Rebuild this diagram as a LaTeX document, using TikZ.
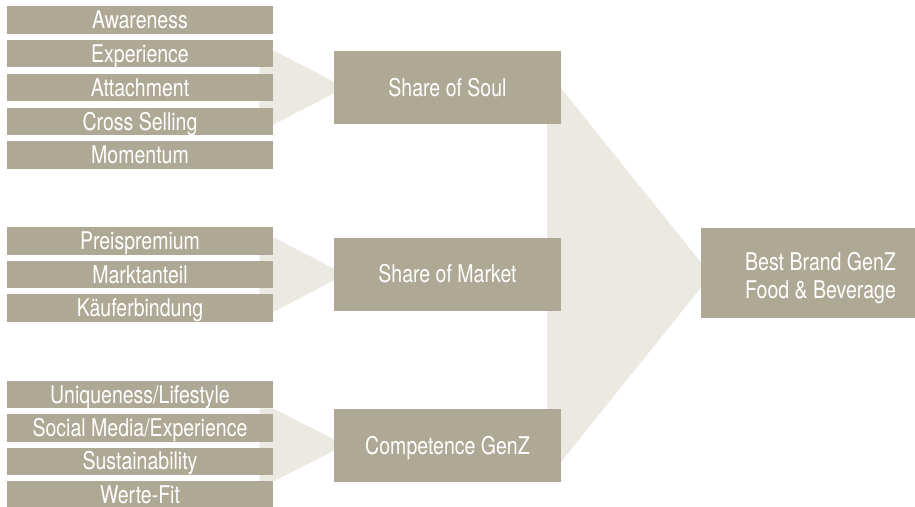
\documentclass[tikz,border=0pt]{standalone}
\usepackage{fontspec}
\setmainfont{TeX Gyre Heros}[FakeStretch=0.8]
\definecolor{taupe}{RGB}{175,168,149}
\definecolor{funnel}{RGB}{236,233,226}
\begin{document}
\begin{tikzpicture}[x=1pt,y=-1pt,
  every node/.style={font=\fontsize{24.4}{28.3}\selectfont},
  item/.style={fill=taupe,text=white,inner sep=0pt,minimum width=265.4pt,
    minimum height=27.4pt,text height=17.5pt,text depth=0pt},
  driver/.style={item,minimum width=226.4pt,minimum height=72.8pt},
  goal/.style={fill=taupe,inner sep=0pt,minimum width=239pt,minimum height=90pt}]
\useasboundingbox (0,0) rectangle (915,506);
% funnels behind the boxes
\foreach \c/\h in {87.5/37.5,274.5/37.8,445/36.7}
  \fill[funnel] (259.3,\c-\h)--(272.7,\c-\h)--(345,\c)--(272.7,\c+\h)--(259.3,\c+\h)--cycle;
\fill[funnel] (547,88)--(561,88)--(711,275)--(561,462)--(547,462)--cycle;
% share of soul
\node[item] (awareness) at (140,20) {Awareness};
\node[item] (experience) at (140,53.75) {Experience};
\node[item] (attachment) at (140,87.5) {Attachment};
\node[item] (crossselling) at (140,121.25) {Cross Selling};
\node[item] (momentum) at (140,155) {Momentum};
% share of market
\node[item] (preis) at (140,241) {Preispremium};
\node[item] (markt) at (140,274.6) {Marktanteil};
\node[item] (kaeufer) at (140,308) {Käuferbindung};
% competence
\node[item] (unique) at (140,394.4) {Uniqueness/Lifestyle};
\node[item] (social) at (140,427.8) {Social Media/Experience};
\node[item] (sustain) at (140,461.2) {Sustainability};
\node[item] (werte) at (140,494.6) {Werte-Fit};
\node[driver] (soul) at (447.5,87.5) {Share of Soul};
\node[driver] (market) at (447.5,274.2) {Share of Market};
\node[driver] (genz) at (447.5,445.3) {Competence GenZ};
\node[goal] (best) at (820.5,273.3) {};
\node[text=white,align=center] (bestlabel) at ([yshift=-4.7pt]best.center)
  {Best Brand GenZ\\Food \& Beverage};
%\draw (best) -- (genz);
\end{tikzpicture}
\end{document}
